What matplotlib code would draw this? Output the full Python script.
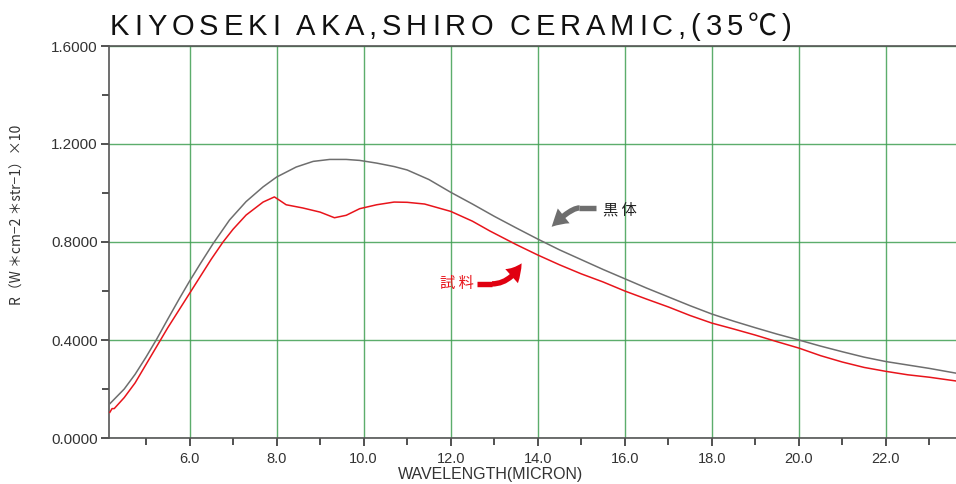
import numpy as np
import matplotlib
matplotlib.use('Agg')
import matplotlib.pyplot as plt
from matplotlib.ticker import MultipleLocator, FormatStrFormatter
from matplotlib.patches import FancyArrowPatch

# data
bb_wavelength = [4.17, 4.5, 4.75, 5.0, 5.25, 5.5, 5.77, 6.0, 6.25, 6.54, 6.92, 7.3, 7.69, 8.0,
                 8.45, 8.84, 9.22, 9.6, 9.91, 10.3, 10.7, 11.0, 11.5, 12.0, 12.5, 13.0, 13.5,
                 14.0, 14.5, 15.0, 15.5, 16.0, 16.5, 17.0, 17.5, 18.0, 18.5, 19.0, 19.5, 20.0,
                 20.5, 21.0, 21.5, 22.0, 22.5, 23.0, 23.6]
blackbody = [0.14, 0.20, 0.26, 0.33, 0.405, 0.485, 0.57, 0.64, 0.712, 0.793, 0.89, 0.965,
             1.025, 1.065, 1.106, 1.129, 1.137, 1.137, 1.133, 1.122, 1.108, 1.094, 1.055,
             1.003, 0.955, 0.905, 0.858, 0.812, 0.768, 0.728, 0.688, 0.65, 0.612, 0.576, 0.54,
             0.506, 0.477, 0.45, 0.424, 0.40, 0.375, 0.352, 0.33, 0.312, 0.298, 0.284, 0.265]

s_wavelength = [4.17, 4.22, 4.27, 4.5, 4.75, 5.0, 5.25, 5.5, 5.75, 6.0, 6.25, 6.5, 6.77, 7.0,
                7.3, 7.69, 7.95, 8.07, 8.22, 8.6, 9.0, 9.33, 9.6, 9.91, 10.3, 10.7, 11.0,
                11.4, 12.0, 12.5, 12.9, 13.5, 14.0, 14.5, 15.0, 15.5, 16.0, 16.5, 17.0, 17.5,
                18.0, 18.5, 19.0, 19.5, 20.0, 20.5, 21.0, 21.5, 22.0, 22.5, 23.0, 23.6]
sample = [0.105, 0.12, 0.12, 0.165, 0.225, 0.30, 0.375, 0.45, 0.52, 0.59, 0.66, 0.73, 0.80,
          0.852, 0.91, 0.963, 0.984, 0.97, 0.952, 0.939, 0.922, 0.899, 0.909, 0.936, 0.952,
          0.963, 0.962, 0.955, 0.925, 0.885, 0.845, 0.79, 0.747, 0.707, 0.67, 0.637, 0.60,
          0.567, 0.535, 0.50, 0.469, 0.445, 0.42, 0.393, 0.367, 0.336, 0.31, 0.288, 0.272,
          0.258, 0.248, 0.233]

title = "KIYOSEKI AKA,SHIRO CERAMIC,(35℃)"
xlabel = "WAVELENGTH(MICRON)"
ylabel = "R（W ＊cm−2 ＊str−1）×10"
label_bb = "黒 体"
label_sample = "試 料"

W, H = 956, 484
fig = plt.figure(figsize=(W / 100, H / 100), dpi=100)
ax = fig.add_axes([109 / W, (H - 438) / H, (W - 109) / W, (438 - 46) / H])

grid_c = '#3f9f52'
ax.plot(bb_wavelength, blackbody, color='#6e6e6e', lw=1.1, zorder=3)
ax.plot(s_wavelength, sample, color='#e8141b', lw=1.1, zorder=3)

ax.set_xlim(4.15, 23.61)
ax.set_ylim(0, 1.6)
ax.xaxis.set_major_locator(MultipleLocator(2.0))
ax.xaxis.set_minor_locator(MultipleLocator(1.0))
ax.yaxis.set_major_locator(MultipleLocator(0.4))
ax.yaxis.set_minor_locator(MultipleLocator(0.2))
ax.xaxis.set_major_formatter(FormatStrFormatter('%.1f'))
ax.yaxis.set_major_formatter(FormatStrFormatter('%.4f'))
ax.grid(True, which='major', color=grid_c, lw=1.0, alpha=0.85, zorder=1)

for side in ['left', 'bottom', 'top']:
    ax.spines[side].set_color('#555555')
    ax.spines[side].set_linewidth(1.2)
ax.spines['right'].set_visible(False)

ax.tick_params(axis='both', which='both', direction='out', color='#333333', width=1.2)
ax.tick_params(axis='both', which='major', length=6)
ax.tick_params(axis='both', which='minor', length=5)
ax.tick_params(axis='y', labelsize=11, labelcolor='#333333', pad=2)
ax.tick_params(axis='x', labelsize=10.5, labelcolor='#333333', pad=4)
for lab in ax.get_yticklabels():
    lab.set_family(['Liberation Sans', 'DejaVu Sans'])
for lab in ax.get_xticklabels():
    lab.set_family(['Liberation Sans Narrow', 'Liberation Sans'])

# axis labels
fig.text(491 / W, (H - 475) / H, xlabel, ha='center', va='center', fontsize=11.5,
         color='#333333', family=['Liberation Sans Narrow', 'Liberation Sans'])
fig.text(18 / W, (H - 215) / H, ylabel, ha='center', va='center', rotation=90, fontsize=10,
         color='#333333', family=['Noto Sans CJK JP', 'DejaVu Sans'])

# letter-spaced title
renderer = fig.canvas.get_renderer()
tx = 110.0
gap = 4.9
for ch in title:
    if ch == ' ':
        tx += 11
        continue
    t = fig.text(tx / W, (H - 35) / H, ch, fontsize=21, color='#111111', va='baseline',
                 family=['Liberation Sans', 'Noto Sans CJK JP'])
    tx += t.get_window_extent(renderer).width + gap

# annotations
ax.text(15.5, 0.93, label_bb, fontsize=11, color='#222222', va='center', ha='left',
        family=['Noto Sans CJK JP'])
ax.text(12.53, 0.63, label_sample, fontsize=11, color='#e8141b', va='center', ha='right',
        family=['Noto Sans CJK JP'])

arrow_style = 'simple,head_length=0.9,head_width=1.05,tail_width=0.3'
# straight part of the shafts, then the bent part with the head
ax.plot([15.33, 14.95], [0.939, 0.939], color='#6e6e6e', lw=3.9, solid_capstyle='butt', zorder=4)
ax.plot([12.6, 12.96], [0.629, 0.629], color='#e00010', lw=3.9, solid_capstyle='butt', zorder=4)
arr_bb = FancyArrowPatch((14.96, 0.939), (14.32, 0.862),
                         connectionstyle='angle3,angleA=0,angleB=45',
                         arrowstyle=arrow_style, mutation_scale=13, shrinkA=0, shrinkB=0,
                         color='#6e6e6e', lw=0, zorder=4)
arr_s = FancyArrowPatch((12.95, 0.629), (13.63, 0.713),
                        connectionstyle='angle3,angleA=0,angleB=60',
                        arrowstyle=arrow_style, mutation_scale=13, shrinkA=0, shrinkB=0,
                        color='#e00010', lw=0, zorder=4)
ax.add_patch(arr_bb)
ax.add_patch(arr_s)

fig.savefig('out.png', dpi=100)
